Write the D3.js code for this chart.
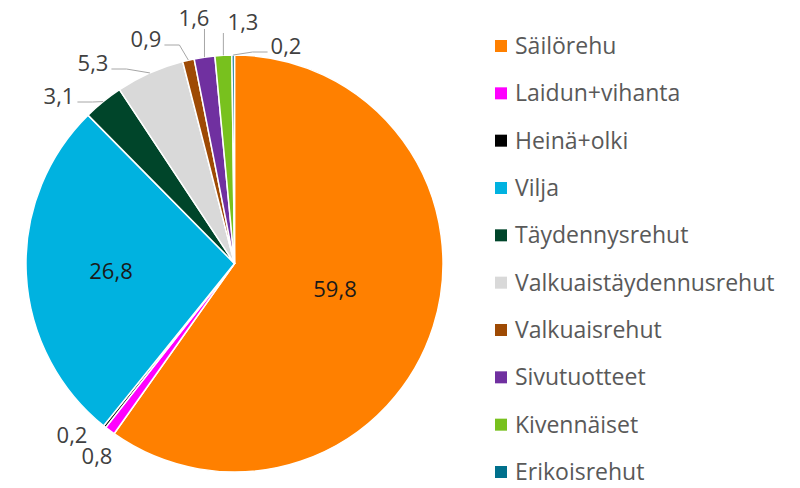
<!DOCTYPE html>
<html>
<head>
<meta charset="utf-8">
<script src="https://cdn.jsdelivr.net/npm/d3@7"></script>
<style>
  body { margin: 0; background: #fff; }
  svg { display: block; font-family: 'Open Sans', 'Noto Sans', sans-serif; }
</style>
</head>
<body>
<div id="chart"></div>
<script>
// feed shares, percent
var categories = ['Säilörehu', 'Laidun+vihanta', 'Heinä+olki', 'Vilja', 'Täydennysrehut',
    'Valkuaistäydennusrehut', 'Valkuaisrehut', 'Sivutuotteet', 'Kivennäiset', 'Erikoisrehut']
var values = [59.8, 0.8, 0.2, 26.8, 3.1, 5.3, 0.9, 1.6, 1.3, 0.2]
var valueLabels = ['59,8', '0,8', '0,2', '26,8', '3,1', '5,3', '0,9', '1,6', '1,3', '0,2']
var colors = ['#ff8000', '#ff00ff', '#000000', '#00b2e0', '#00452a',
    '#d9d9d9', '#9e4a04', '#7030a0', '#78c11e', '#00708c']

var width = 800
var height = 488
var cx = 234.5
var cy = 263.5
var radius = 208.5

// where excel put the labels (text centres) and how the leader line runs
var labelLayout = {
    'Säilörehu': {x: 335, y: 289, line: null, inside: true},
    'Vilja': {x: 111, y: 271, line: null, inside: true},
    'Laidun+vihanta': {x: 97, y: 456, line: null},
    'Heinä+olki': {x: 72, y: 435, line: null},
    'Täydennysrehut': {x: 59, y: 96, line: 'right'},
    'Valkuaistäydennusrehut': {x: 93, y: 63, line: 'right'},
    'Valkuaisrehut': {x: 146, y: 39, line: 'right'},
    'Sivutuotteet': {x: 194, y: 18, line: 'down'},
    'Kivennäiset': {x: 243, y: 22, line: 'down'},
    'Erikoisrehut': {x: 286, y: 46, line: 'left'}
}

var data = categories.map(function(c, i) {
    return {name: c, value: values[i], label: valueLabels[i], color: colors[i]}
})

var svg = d3.select('#chart').append('svg')
    .attr('width', width)
    .attr('height', height)

var pie = d3.pie()
    .value(function(d) { return d.value })
    .sort(null)

var arc = d3.arc()
    .innerRadius(0)
    .outerRadius(radius)

var arcs = pie(data)

var g = svg.append('g')
    .attr('transform', 'translate(' + cx + ',' + cy + ')')

g.selectAll('.slice')
    .data(arcs)
    .enter().append('path')
    .attr('class', 'slice')
    .attr('d', arc)
    .attr('fill', function(d) { return d.data.color })
    .attr('stroke', '#fff')
    .attr('stroke-width', 1.5)
    .attr('stroke-linejoin', 'round')

var edgePoint = function(d) {
    var a = (d.startAngle + d.endAngle) / 2
    return [cx + radius * Math.sin(a), cy - radius * Math.cos(a)]
}

var labels = svg.append('g')

arcs.forEach(function(d) {
    var lay = labelLayout[d.data.name]
    var t = labels.append('text')
        .attr('x', lay.x)
        .attr('y', lay.y)
        .attr('dy', '0.35em')
        .attr('text-anchor', 'middle')
        .style('font-size', '22px')
        .style('fill', lay.inside ? '#1a1a1a' : '#404040')
        .text(d.data.label)

    if (!lay.line) return
    var box = t.node().getBBox()
    var e = edgePoint(d)
    var pts
    if (lay.line == 'right') {
        var sx = box.x + box.width + 3
        pts = [[sx, lay.y + 6], [sx + 15, lay.y + 6], e]
    } else if (lay.line == 'left') {
        var sx = box.x - 3
        pts = [[sx, lay.y + 6], [sx - 15, lay.y + 6], e]
    } else {
        pts = [[e[0], lay.y + 11], e]
    }
    labels.append('path')
        .attr('d', d3.line()(pts))
        .attr('fill', 'none')
        .attr('stroke', '#a6a6a6')
        .attr('stroke-width', 1)
})

// legend
var legendY = d3.scalePoint()
    .domain(categories)
    .range([46, 472])

var legend = svg.selectAll('.legend')
    .data(data)
    .enter().append('g')
    .attr('class', 'legend')
    .attr('transform', function(d) { return 'translate(495,' + legendY(d.name) + ')' })

legend.append('rect')
    .attr('x', 0)
    .attr('y', -6)
    .attr('width', 12)
    .attr('height', 12)
    .attr('fill', function(d) { return d.color })

legend.append('text')
    .attr('x', 20)
    .attr('dy', '0.35em')
    .style('font-size', '23px')
    .style('fill', '#595959')
    .text(function(d) { return d.name })
</script>
</body>
</html>
